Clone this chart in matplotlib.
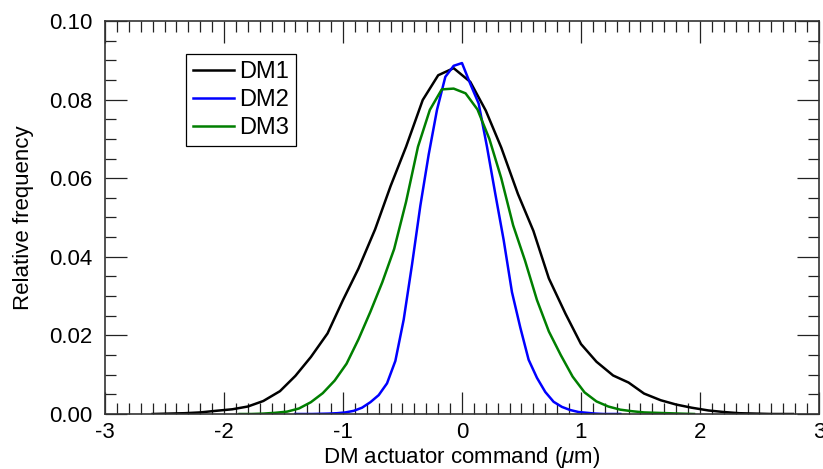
import numpy as np
import matplotlib
matplotlib.use("Agg")
import matplotlib.pyplot as plt
from matplotlib.ticker import MultipleLocator

# DM1 (black)
x_dm1 = [-2.6, -2.47, -2.33, -2.2, -2.07, -1.93, -1.8, -1.67, -1.53, -1.4,
         -1.27, -1.13, -1.0, -0.87, -0.73, -0.6, -0.47, -0.33, -0.2, -0.07,
         0.07, 0.2, 0.33, 0.47, 0.6, 0.73, 0.87, 1.0, 1.13, 1.27,
         1.4, 1.53, 1.67, 1.8, 1.93, 2.07, 2.2, 2.33, 2.47, 2.6, 2.78]
y_dm1 = [0.0, 0.0001, 0.0002, 0.0004, 0.0008, 0.0012, 0.0019, 0.0033, 0.0058, 0.0097,
         0.0145, 0.0205, 0.029, 0.037, 0.047, 0.058, 0.068, 0.0799, 0.0862, 0.088,
         0.0845, 0.0772, 0.0678, 0.056, 0.0466, 0.0345, 0.0255, 0.0178, 0.0133, 0.0098,
         0.0080, 0.0052, 0.0035, 0.0024, 0.0016, 0.0009, 0.0005, 0.0002, 0.0001, 0.0, 0.0]

# DM2 (blue)
x_dm2 = [-1.4, -1.26, -1.12, -1.05, -0.98, -0.91, -0.84, -0.77, -0.7, -0.63,
         -0.56, -0.49, -0.42, -0.35, -0.28, -0.21, -0.14, -0.07, 0.0, 0.07,
         0.14, 0.21, 0.28, 0.35, 0.42, 0.49, 0.56, 0.63, 0.7, 0.77,
         0.84, 0.91, 0.98, 1.05, 1.12, 1.19, 1.33]
y_dm2 = [0.0, 0.0, 0.0001, 0.0002, 0.0004, 0.0008, 0.0016, 0.003, 0.0048, 0.0078,
         0.0135, 0.024, 0.038, 0.053, 0.066, 0.0774, 0.0858, 0.0886, 0.0893, 0.084,
         0.079, 0.068, 0.056, 0.0443, 0.031, 0.022, 0.0138, 0.0092, 0.0056, 0.0031,
         0.0018, 0.001, 0.0005, 0.0003, 0.0001, 0.0, 0.0]

# DM3 (green)
x_dm3 = [-1.87, -1.77, -1.67, -1.57, -1.47, -1.37, -1.27, -1.17, -1.07, -0.97,
         -0.87, -0.77, -0.67, -0.57, -0.47, -0.37, -0.27, -0.17, -0.07, 0.03,
         0.13, 0.23, 0.33, 0.43, 0.53, 0.63, 0.73, 0.83, 0.93, 1.03,
         1.13, 1.23, 1.33, 1.43, 1.53, 1.63, 1.73, 1.83, 1.95]
y_dm3 = [0.0, 0.0, 0.0001, 0.0003, 0.0006, 0.0014, 0.003, 0.0053, 0.0085, 0.0128,
         0.019, 0.026, 0.0335, 0.042, 0.054, 0.068, 0.0774, 0.0826, 0.0828, 0.0816,
         0.0775, 0.070, 0.060, 0.048, 0.039, 0.029, 0.021, 0.015, 0.0095, 0.0055,
         0.0032, 0.0019, 0.0011, 0.0007, 0.0004, 0.0003, 0.0002, 0.0001, 0.0]

labels = ["DM1", "DM2", "DM3"]
colors = ["black", "#0000ff", "#007f00"]

plt.rcParams['font.family'] = ['Liberation Sans', 'DejaVu Sans']
plt.rcParams['axes.unicode_minus'] = False
plt.rcParams['mathtext.fontset'] = 'custom'
plt.rcParams['mathtext.it'] = 'Liberation Sans:italic'

fig = plt.figure(figsize=(8.23, 4.69), dpi=100)
ax = fig.add_axes([0.1276, 0.1173, 0.8675, 0.8379])

for xs, ys, lab, col in zip([x_dm1, x_dm2, x_dm3], [y_dm1, y_dm2, y_dm3], labels, colors):
    ax.plot(xs, ys, color=col, lw=1.8, label=lab)

ax.set_xlim(-3, 3)
ax.set_ylim(0, 0.10)
ax.xaxis.set_major_locator(MultipleLocator(1))
ax.xaxis.set_minor_locator(MultipleLocator(0.1))
ax.yaxis.set_major_locator(MultipleLocator(0.02))
ax.yaxis.set_minor_locator(MultipleLocator(0.005))
ax.yaxis.set_major_formatter(plt.FormatStrFormatter('%.2f'))

ax.tick_params(which='both', direction='in', top=True, right=True,
               labelsize=16, color='#222222')
ax.tick_params(which='major', length=16, width=0.9)
ax.tick_params(which='minor', length=8, width=0.9)
ax.tick_params(axis='x', pad=6)
ax.tick_params(axis='y', pad=9)
for s in ax.spines.values():
    s.set_linewidth(1.2)
    s.set_color('#333333')

ax.set_xlabel(r"DM actuator command ($\mathit{\mu}$m)", fontsize=16, labelpad=1)
ax.set_ylabel("Relative frequency", fontsize=16, labelpad=11)

leg = ax.legend(loc='upper left', bbox_to_anchor=(0.113, 0.915), fontsize=17,
                handlelength=1.75, handletextpad=0.2, borderpad=0.3,
                labelspacing=0.25, borderaxespad=0, fancybox=False,
                framealpha=1, edgecolor='black')
leg.get_frame().set_linewidth(0.9)

fig.savefig("out.png", dpi=100)
